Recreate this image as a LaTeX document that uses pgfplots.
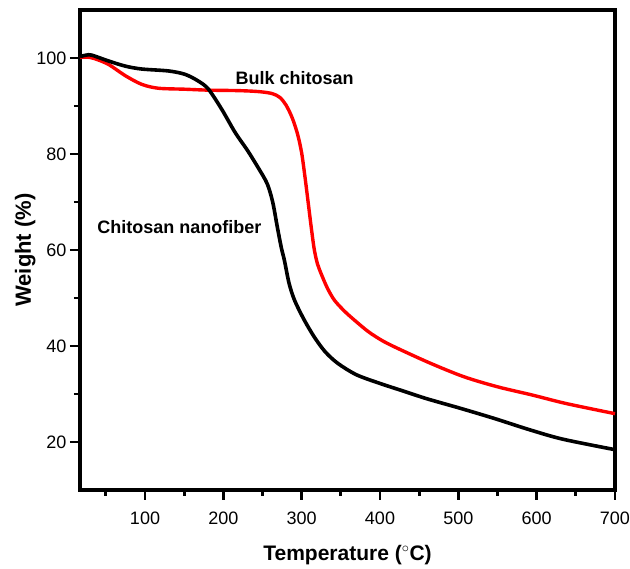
\documentclass[border=0pt]{standalone}
\usepackage{fontspec}
\setmainfont{Liberation Sans}
\usepackage{pgfplots}
\pgfplotsset{compat=1.18}
\begin{document}
\begin{tikzpicture}
\begin{axis}[
  scale only axis,
  width=535pt, height=480pt,
  xmin=17, xmax=700, ymin=10, ymax=110,
  axis line style={line width=3.2pt},
  xtick={100,200,...,700},
  minor xtick={50,150,...,650},
  ytick={20,40,...,100},
  minor ytick={30,50,...,90},
  xtick pos=left, ytick pos=left,
  tick align=outside,
  major tick length=10pt, minor tick length=6pt,
  every tick/.style={line width=2.7pt,black},
  tick label style={font=\fontsize{18}{20}\selectfont},
  xticklabel style={yshift=-8pt, inner xsep=0pt},
  /pgf/number format/assume math mode=true,
  xlabel={\textbf{Temperature (${}^\circ$C)}},
  ylabel={\textbf{Weight (\%)}},
  xlabel style={font=\fontsize{21}{24}\selectfont, yshift=-14pt},
  ylabel style={font=\fontsize{22}{25}\selectfont, yshift=-6pt},
  clip=false,
]
\addplot[red, line width=3.4pt, smooth] coordinates {
(17,100.1) (25,100.2) (35,99.9) (53,98.7) (75,96.3) (96,94.5) (117,93.7) (150,93.5)
(181,93.3) (220,93.2) (245,93.0) (262,92.6) (272,91.8) (280,90.2) (288,87.5) (295,84.0)
(300,80.2) (304,75.5) (308,70.3) (312,65) (316,60.2) (320,57.2) (325,55) (333,52)
(342,49.5) (355,47.2) (368,45.3) (385,43) (402,41.2) (420,39.7) (463,36.5) (507,33.6)
(550,31.5) (594,29.8) (638,28.0) (700,25.9)
};
\addplot[black, line width=3.6pt, smooth] coordinates {
(17,100.3) (25,100.6) (32,100.6) (53,99.4) (75,98.3) (96,97.7) (130,97.3) (151,96.6)
(168,95.2) (181,93.5) (198,89.3) (215,84.5) (231,80.7) (245,77) (256,73.8) (263,70)
(269,64.7) (274,60.5) (278,57.8) (284,53) (291,49.5) (303,45.5) (316,41.9) (330,38.8)
(346,36.4) (370,34.0) (400,32.2) (430,30.6) (460,29.0) (503,27.0) (546,24.9) (590,22.6)
(633,20.6) (700,18.4)
};
\node[font=\fontsize{18}{21}\selectfont\bfseries] at (axis cs:291,95.8) {Bulk chitosan};
\node[font=\fontsize{18}{21}\selectfont\bfseries] at (axis cs:144,64.7) {Chitosan nanofiber};
\end{axis}
\path ([shift={(-80pt,-77pt)}]current axis.south west) rectangle ([shift={(15pt,10pt)}]current axis.north east);
\end{tikzpicture}
\end{document}
